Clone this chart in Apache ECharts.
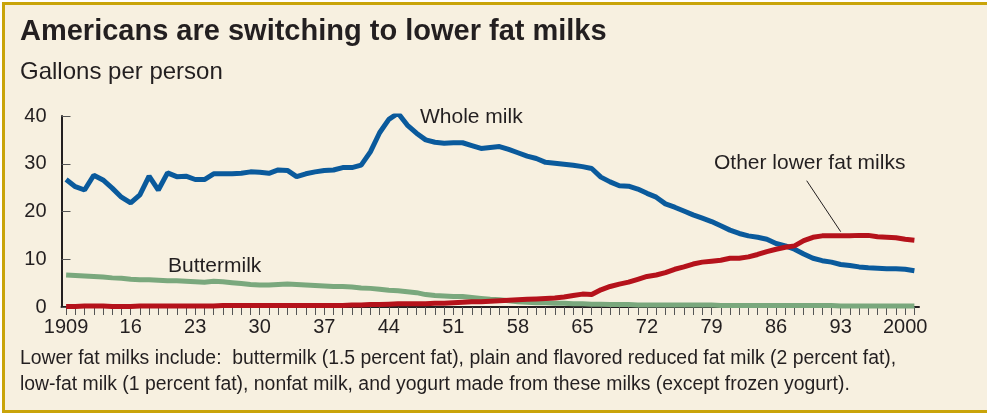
<!DOCTYPE html>
<html><head><meta charset="utf-8">
<script src="https://cdn.jsdelivr.net/npm/echarts@6/dist/echarts.min.js"></script>
<style>html,body{margin:0;padding:0;background:#fff;}#c{width:987px;height:415px;}</style>
</head><body><div id="c"></div>
<script>
var years = [];
for (var y = 1909; y <= 2001; y++) years.push(String(y));
var yTicks = [0, 10, 20, 30, 40];
var wholeMilk = [
 26.7,25.2,24.5,27.6,26.6,24.9,23.0,21.8,23.5,27.4,
 24.5,28.1,27.3,27.4,26.7,26.7,27.9,27.9,27.9,28.0,
 28.3,28.2,28.0,28.7,28.6,27.3,27.9,28.3,28.6,28.7,
 29.2,29.2,29.7,32.5,36.5,39.3,40.6,38.1,36.4,35.0,
 34.5,34.3,34.4,34.4,33.8,33.2,33.4,33.6,33.0,32.3,
 31.6,31.1,30.3,30.1,29.9,29.7,29.4,29.0,27.2,26.2,
 25.4,25.3,24.7,23.8,23.0,21.6,20.9,20.1,19.3,18.6,
 17.9,17.0,16.1,15.4,14.9,14.6,14.2,13.3,12.8,12.1,
 11.1,10.2,9.7,9.4,8.9,8.7,8.4,8.2,8.1,8.0,
 8.0,7.9,7.6];
var otherLowerFat = [
 0.1,0.1,0.2,0.2,0.2,0.1,0.1,0.1,0.2,0.2,
 0.2,0.2,0.2,0.2,0.2,0.2,0.2,0.3,0.3,0.3,
 0.3,0.3,0.3,0.3,0.3,0.3,0.3,0.3,0.3,0.3,
 0.3,0.4,0.4,0.5,0.5,0.6,0.7,0.7,0.7,0.7,
 0.8,0.8,0.9,1.0,1.1,1.1,1.2,1.3,1.4,1.5,
 1.6,1.7,1.8,1.9,2.1,2.4,2.7,2.6,3.6,4.3,
 4.8,5.2,5.8,6.4,6.7,7.2,7.9,8.4,9.0,9.4,
 9.6,9.8,10.2,10.2,10.5,11.0,11.6,12.1,12.5,12.8,
 13.9,14.6,14.9,14.9,14.9,14.9,15.0,15.0,14.7,14.6,
 14.5,14.2,14.0];
var buttermilk = [
 6.7,6.6,6.5,6.4,6.3,6.1,6.0,5.8,5.7,5.7,
 5.6,5.5,5.5,5.4,5.3,5.2,5.4,5.3,5.1,4.9,
 4.7,4.6,4.6,4.7,4.8,4.7,4.6,4.5,4.4,4.3,
 4.3,4.2,4.0,3.9,3.7,3.5,3.4,3.2,3.0,2.6,
 2.4,2.3,2.2,2.2,2.0,1.8,1.6,1.5,1.3,1.1,
 1.0,0.9,0.9,0.8,0.8,0.7,0.7,0.6,0.6,0.5,
 0.5,0.5,0.4,0.4,0.4,0.4,0.4,0.4,0.4,0.4,
 0.4,0.3,0.3,0.3,0.3,0.3,0.3,0.3,0.3,0.3,
 0.3,0.3,0.3,0.3,0.2,0.2,0.2,0.2,0.2,0.2,
 0.2,0.2,0.2];

var ink = '#231f20';
var font = '"Liberation Sans", Arial, Helvetica, sans-serif';
var chart = echarts.init(document.getElementById('c'), null, {renderer: 'canvas'});
chart.setOption({
  animation: false,
  backgroundColor: '#ffffff',
  textStyle: {fontFamily: font, color: ink},
  graphic: [
    {type: 'rect', z: -10, shape: {x: 3.5, y: 3.5, width: 1000, height: 408}, style: {fill: '#f7f0e0', stroke: '#c9a40a', lineWidth: 3}},
    {type: 'text', x: 20, y: 32, style: {text: 'Americans are switching to lower fat milks', font: 'bold 29px ' + font, fill: ink, verticalAlign: 'middle', align: 'left'}},
    {type: 'text', x: 20, y: 72, style: {text: 'Gallons per person', font: '24px ' + font, fill: ink, verticalAlign: 'middle', align: 'left'}},
    {type: 'text', x: 420, y: 117, style: {text: 'Whole milk', font: '21px ' + font, fill: ink, verticalAlign: 'middle', align: 'left'}},
    {type: 'text', x: 168, y: 266, style: {text: 'Buttermilk', font: '21px ' + font, fill: ink, verticalAlign: 'middle', align: 'left'}},
    {type: 'text', x: 714, y: 163, style: {text: 'Other lower fat milks', font: '21px ' + font, fill: ink, verticalAlign: 'middle', align: 'left'}},
    {type: 'line', shape: {x1: 806.7, y1: 180.7, x2: 840.7, y2: 231.7}, style: {stroke: ink, lineWidth: 1}},
    {type: 'text', x: 20, y: 359, style: {text: 'Lower fat milks include:  buttermilk (1.5 percent fat), plain and flavored reduced fat milk (2 percent fat),', font: '19.4px ' + font, fill: ink, verticalAlign: 'middle', align: 'left'}},
    {type: 'text', x: 20, y: 385, style: {text: 'low-fat milk (1 percent fat), nonfat milk, and yogurt made from these milks (except frozen yogurt).', font: '19.4px ' + font, fill: ink, verticalAlign: 'middle', align: 'left'}}
  ],
  grid: {left: 61.5, right: 68, top: 116, bottom: 108, containLabel: false},
  xAxis: {
    type: 'category', data: years, boundaryGap: true,
    axisLine: {lineStyle: {color: ink, width: 2}},
    axisTick: {show: true, interval: 0, alignWithLabel: true, length: 8, lineStyle: {color: '#555', width: 1}},
    axisLabel: {interval: 6, margin: 10, fontSize: 20, color: ink, fontFamily: font,
      formatter: function (v) { return (v === '1909' || v === '2000') ? v : v.slice(2); }},
    splitLine: {show: false}
  },
  yAxis: {
    type: 'value', min: yTicks[0], max: yTicks[yTicks.length - 1], interval: 10,
    axisLine: {show: true, lineStyle: {color: ink, width: 2}},
    axisTick: {show: true, inside: true, length: 9, lineStyle: {color: '#555', width: 1}},
    axisLabel: {margin: 15, fontSize: 20, color: ink, fontFamily: font},
    splitLine: {show: false}
  },
  series: [
    {name: 'Whole milk', type: 'line', data: wholeMilk, symbol: 'none', lineStyle: {color: '#0a5a9c', width: 5}, z: 3},
    {name: 'Buttermilk', type: 'line', data: buttermilk, symbol: 'none', lineStyle: {color: '#7aa87d', width: 5}, z: 4},
    {name: 'Other lower fat milks', type: 'line', data: otherLowerFat, symbol: 'none', lineStyle: {color: '#b5121b', width: 5}, z: 5}
  ]
});
</script></body></html>
